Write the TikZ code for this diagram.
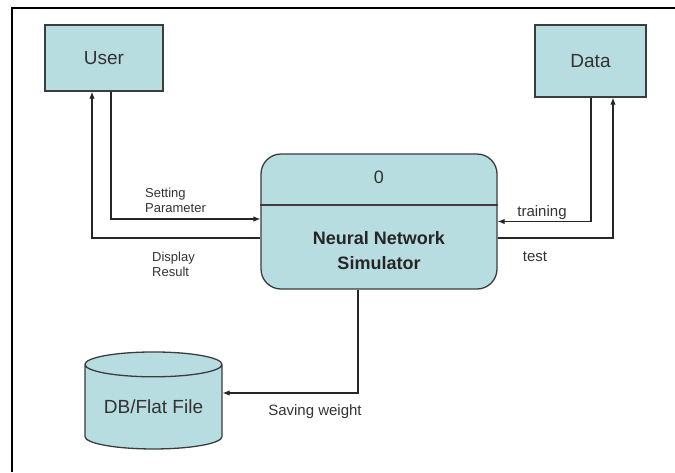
\documentclass[tikz,border=0pt]{standalone}
\usepackage{fontspec}
\setmainfont{Liberation Sans}
\usetikzlibrary{shapes.geometric, arrows.meta, positioning}

\definecolor{boxfill}{RGB}{184,221,224}
\definecolor{boxline}{RGB}{60,60,60}
\definecolor{labeltext}{RGB}{50,50,50}

\begin{document}
\begin{tikzpicture}[x=1pt, y=-1pt,
    entity/.style={draw=boxline, line width=1.3pt, fill=boxfill, text=labeltext,
      font=\fontsize{19}{21}\selectfont, inner sep=0pt},
    flow/.style={draw=black!85, line width=1.1pt, -{Latex[length=7pt,width=5.5pt]}},
    lbl/.style={text=labeltext, inner sep=0pt, align=left}]
  \useasboundingbox (0,0) rectangle (675,472);
  % frame
  \draw[line width=1.3pt] (12,8) -- (675,8);
  \draw[line width=2pt] (12,7.4) -- (12,472);

  \node[entity, minimum width=118pt, minimum height=66pt] (user) at (104,58) {User};
  \node[entity, minimum width=111pt, minimum height=72pt] (data) at (590.5,61) {Data};
  \node[entity, rounded corners=20pt, minimum width=236pt, minimum height=135pt] (proc) at (379,221.5) {};
  \draw[boxline, line width=1.3pt] ([yshift=-51.5pt]proc.north west) -- ([yshift=-51.5pt]proc.north east);
  \node[text=labeltext, font=\fontsize{18}{20}\selectfont] (num) at (379,177) {0};
  \node[align=center, text=black!85, font=\fontsize{18}{25}\selectfont\bfseries] (title) at (379,250.5) {Neural Network\\Simulator};
  \node[entity, cylinder, shape border rotate=90, aspect=0.25, minimum height=97pt, minimum width=137pt] (db) at (153.5,407) {DB/Flat File};

  \draw[flow] ([xshift=7pt]user.south) |- ([yshift=2.5pt]proc.west);
  \draw[flow] ([yshift=-16.5pt]proc.west) -| ([xshift=-12pt]user.south);
  \draw[flow] ([xshift=0.5pt]data.south) |- (proc.east);
  \draw[flow] ([yshift=-16.5pt]proc.east) -| ([xshift=22.5pt]data.south);
  \draw[flow] ([xshift=-21pt]proc.south) |- ([yshift=14pt]db.east);

  \node[lbl, font=\fontsize{13}{15}\selectfont, anchor=west] (setp) at (145,200.5) {Setting\\Parameter};
  \node[lbl, font=\fontsize{13}{15}\selectfont, anchor=west] (disp) at (152,264.5) {Display\\Result};
  \node[lbl, font=\fontsize{15}{17}\selectfont] (train) at (542,213) {training};
  \node[lbl, font=\fontsize{15}{17}\selectfont] (test) at (535,257) {test};
  \node[lbl, font=\fontsize{15}{17}\selectfont] (save) at (315,412) {Saving weight};
\end{tikzpicture}
\end{document}
